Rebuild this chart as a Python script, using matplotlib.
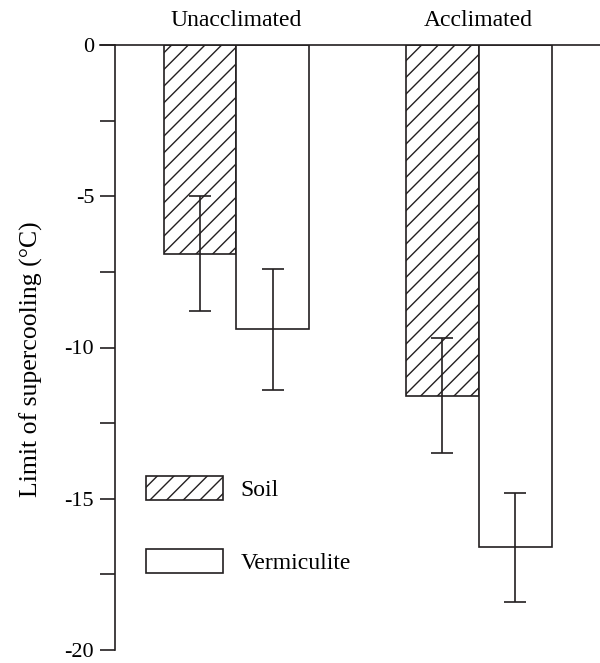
import matplotlib
matplotlib.use("Agg")
import matplotlib.pyplot as plt
import numpy as np
from matplotlib.patches import Patch

# data
groups = ["Unacclimated", "Acclimated"]
soil_mean = [-6.9, -11.6]
soil_err = [1.9, 1.9]
verm_mean = [-9.4, -16.6]
verm_err = [2.0, 1.8]

INK = "#231f20"
plt.rcParams["font.family"] = ["Liberation Serif", "DejaVu Serif"]
plt.rcParams["hatch.linewidth"] = 1.0
plt.rcParams["hatch.color"] = INK

fig = plt.figure(figsize=(6.0, 6.63), dpi=100)
ax = fig.add_axes([115 / 600, 1 - 650 / 663, 485 / 600, 605 / 663])

x = np.arange(len(groups))
w = 0.30
ekw = dict(ecolor=INK, elinewidth=1.2, capsize=8, capthick=1.2)

ax.bar(x - w / 2, soil_mean, w, facecolor="white", edgecolor=INK,
       linewidth=1.2, hatch="//", yerr=soil_err, error_kw=ekw, label="Soil")
ax.bar(x + w / 2, verm_mean, w, facecolor="white", edgecolor=INK,
       linewidth=1.2, yerr=verm_err, error_kw=ekw, label="Vermiculite")

ax.set_xlim(-0.5, 1.5)
ax.set_ylim(-20, 0)
ax.set_yticks([0, -5, -10, -15, -20])
ax.set_yticklabels(["0", "-5", "-10", "-15", "-20"])
ax.set_yticks([-2.5, -7.5, -12.5, -17.5], minor=True)
ax.tick_params(axis="y", which="both", direction="out", length=11,
               width=1.2, color=INK, labelsize=16, pad=4)

# group names along the top
ax.xaxis.tick_top()
ax.set_xticks(x)
ax.set_xticklabels(groups)
ax.tick_params(axis="x", length=0, labelsize=17, pad=10)

for s in ["right", "bottom"]:
    ax.spines[s].set_visible(False)
for s in ["left", "top"]:
    ax.spines[s].set_linewidth(1.2)
    ax.spines[s].set_color(INK)
# top line starts at the tick end, like the original
ax.spines["top"].set_bounds(-0.5 - 15 / 243, 1.5)
ax.spines["top"].set_clip_on(False)

ax.set_ylabel("Limit of supercooling (\u00b0C)", fontsize=18.5)
ax.yaxis.set_label_coords(-0.148, 0.481)

handles = [Patch(facecolor="white", edgecolor=INK, hatch="//", linewidth=1.2, label="Soil"),
           Patch(facecolor="white", edgecolor=INK, linewidth=1.2, label="Vermiculite")]
ax.legend(handles=handles, loc="upper left", bbox_to_anchor=(0.064, 0.288),
          frameon=False, fontsize=17, handlelength=3.25, handleheight=1.18,
          handletextpad=0.75, labelspacing=2.05, borderpad=0, borderaxespad=0)

fig.savefig("out.png", dpi=100)
